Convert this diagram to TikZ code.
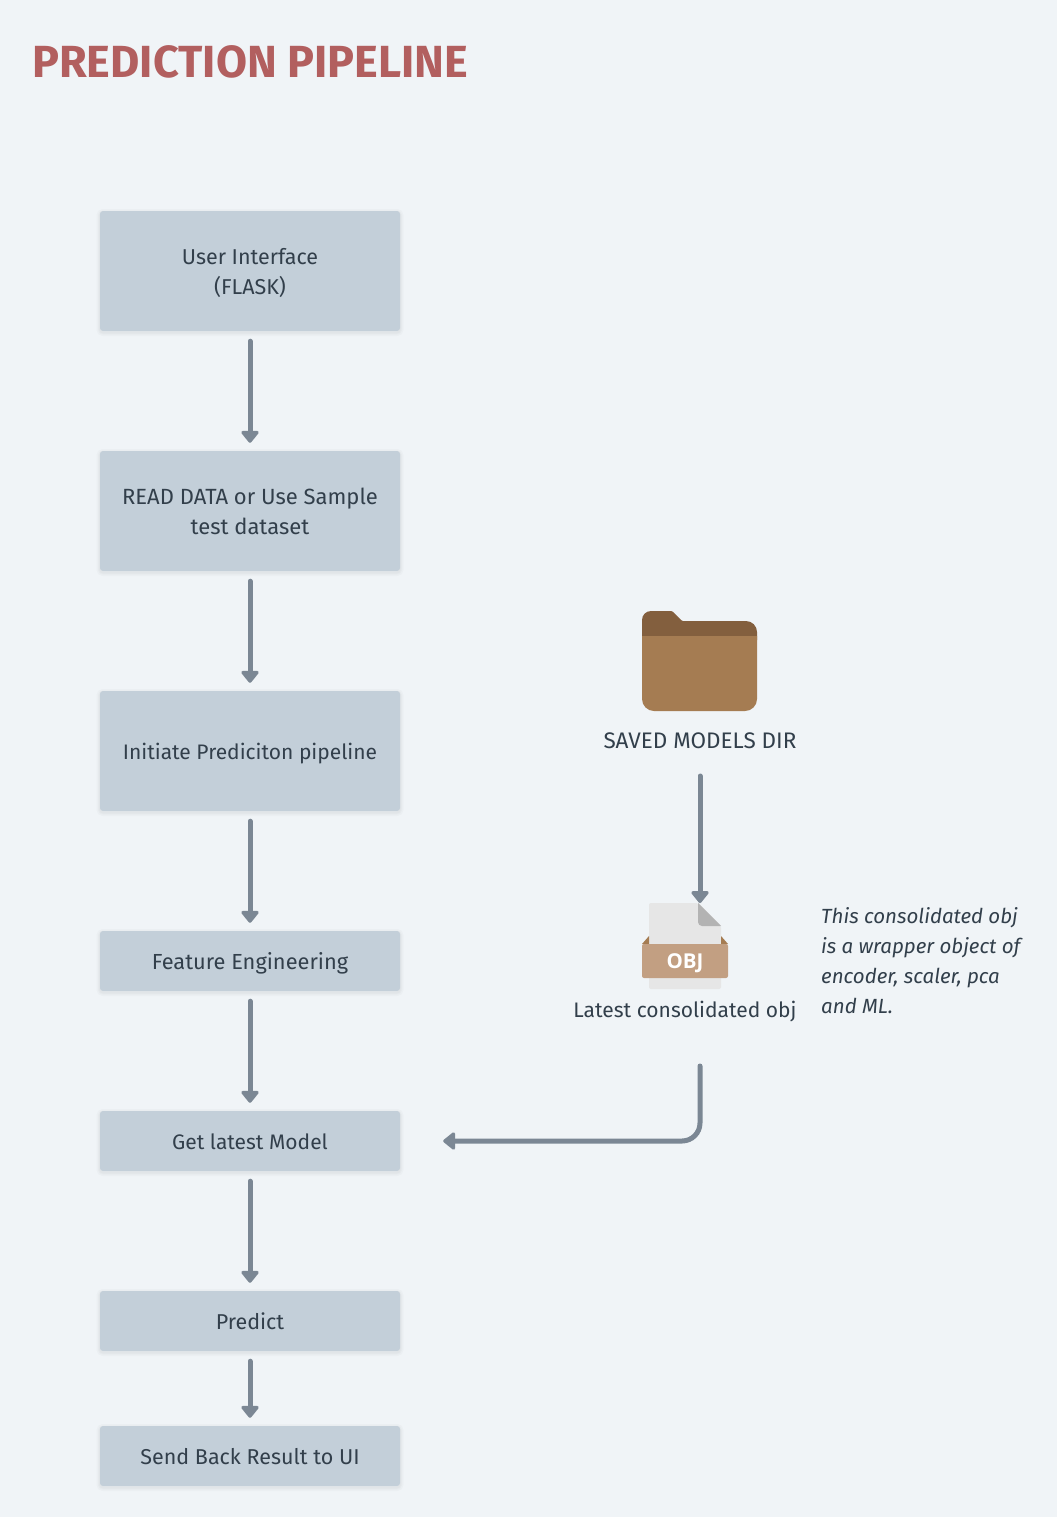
\documentclass[tikz,border=0pt]{standalone}
\usepackage{fontspec}
\setmainfont{Fira Sans}
\newfontfamily\objfont{Open Sans}
\usetikzlibrary{arrows.meta,calc}
\definecolor{pagebg}{HTML}{F0F4F7}
\definecolor{boxfill}{HTML}{C3CFD9}
\definecolor{ink}{HTML}{323F4B}
\definecolor{arrowc}{HTML}{7B8794}
\definecolor{titlec}{HTML}{B25F5F}
\definecolor{folderd}{HTML}{835F3E}
\definecolor{folderl}{HTML}{A57C52}
\definecolor{paper}{HTML}{E6E6E6}
\definecolor{foldc}{HTML}{B3B3B3}
\definecolor{tray}{HTML}{C29F82}
\newcommand{\ltext}[1]{\raisebox{-2.5pt}[21pt][9pt]{#1}}
\tikzset{
  x=1pt,y=-1pt,
  softshadow/.style={preaction={draw=black,draw opacity=0.02,line width=#1,transform canvas={yshift=-1.5pt}}},
  flowbox/.style={draw=none,fill=boxfill,rounded corners=3pt,minimum width=300pt,inner sep=0pt,
    align=center,text=ink,font=\fontsize{21.5}{30}\selectfont,
    softshadow=2pt,softshadow=4pt,softshadow=7pt},
  flowarrow/.style={draw=arrowc,line width=5pt,line cap=round,
    -{Triangle[width=20pt,length=13pt,round]},shorten >=8pt,shorten <=10pt},
  caption/.style={text=ink,font=\fontsize{21}{30}\selectfont,inner sep=0pt,align=center},
  note/.style={text=ink,font=\fontsize{20.5}{30}\selectfont\itshape,inner sep=0pt,align=left},
}
\begin{document}
\begin{tikzpicture}
\fill[pagebg] (0,0) rectangle (1057,1517);
\useasboundingbox (0,0) rectangle (1057,1517);
\node[anchor=west,inner sep=0pt,text=titlec,font=\fontsize{45}{50}\selectfont\bfseries] (title) at (32,62) {PREDICTION PIPELINE};
\node[flowbox,minimum height=120pt] (ui) at (250,271) {\ltext{User Interface}\\\ltext{(FLASK)}};
\node[flowbox,minimum height=120pt,font=\fontsize{22}{30}\selectfont] (read) at (250,511) {\ltext{READ DATA or Use Sample}\\\ltext{test dataset}};
\node[flowbox,minimum height=120pt,font=\fontsize{21}{30}\selectfont] (init) at (250,751) {\ltext{Initiate Prediciton pipeline}};
\node[flowbox,minimum height=60pt,font=\fontsize{21.8}{30}\selectfont] (fe) at (250,961) {\ltext{Feature Engineering}};
\node[flowbox,minimum height=60pt,font=\fontsize{21}{30}\selectfont] (get) at (250,1141) {\ltext{Get latest Model}};
\node[flowbox,minimum height=60pt] (pred) at (250,1321) {\ltext{Predict}};
\node[flowbox,minimum height=60pt] (send) at (250,1456) {\ltext{Send Back Result to UI}};
\draw[flowarrow] (ui) -- (read);
\draw[flowarrow] (read) -- (init);
\draw[flowarrow] (init) -- (fe);
\draw[flowarrow] (fe) -- (get);
\draw[flowarrow] (get) -- (pred);
\draw[flowarrow] (pred) -- (send);
% folder icon
\fill[folderd] (642,640) [rounded corners=9pt] -- (642,611) [rounded corners=1pt] -- (672,611) -- (682,621) [rounded corners=11pt] -- (757,621) [sharp corners] -- (757,640) -- cycle;
\fill[folderl] (642,636) -- (757,636) [rounded corners=12pt] -- (757,711) -- (642,711) [sharp corners] -- cycle;
\node[caption,font=\fontsize{22.5}{30}\selectfont] (savedlabel) at (700,741) {SAVED MODELS DIR};
% obj icon
\fill[paper,rounded corners=2pt] (649,903) -- (698,903) -- (721,926) -- (721,989) -- (649,989) -- cycle;
\fill[foldc] (698,903) -- (721,926) [rounded corners=4pt] -- (698,926) [sharp corners] -- cycle;
\fill[folderl] (642,944) -- (649,936) -- (649,944) -- cycle;
\fill[folderl] (728,944) -- (721,936) -- (721,944) -- cycle;
\fill[tray,rounded corners=2pt] (642,944) -- (728,944) -- (728,978) -- (642,978) -- cycle;
\node[inner sep=0pt,text=white,font=\fontsize{20.5}{24}\selectfont\objfont\bfseries] (objtext) at (685,963) {OBJ};
\coordinate (objtop) at (700,911);
\coordinate (savedstart) at (700,766);
\draw[flowarrow] (savedstart) -- (objtop);
\node[caption] (objlabel) at (685,1012) {Latest consolidated obj};
\node[note,anchor=north west] (notetext) at (821,907) {This consolidated obj\\is a wrapper object of\\encoder, scaler, pca\\and ML.};
% return arrow
\coordinate (retstart) at (700,1056);
\draw[flowarrow,rounded corners=18pt,shorten >=43pt] (retstart) |- (get.east);
\end{tikzpicture}
\end{document}
